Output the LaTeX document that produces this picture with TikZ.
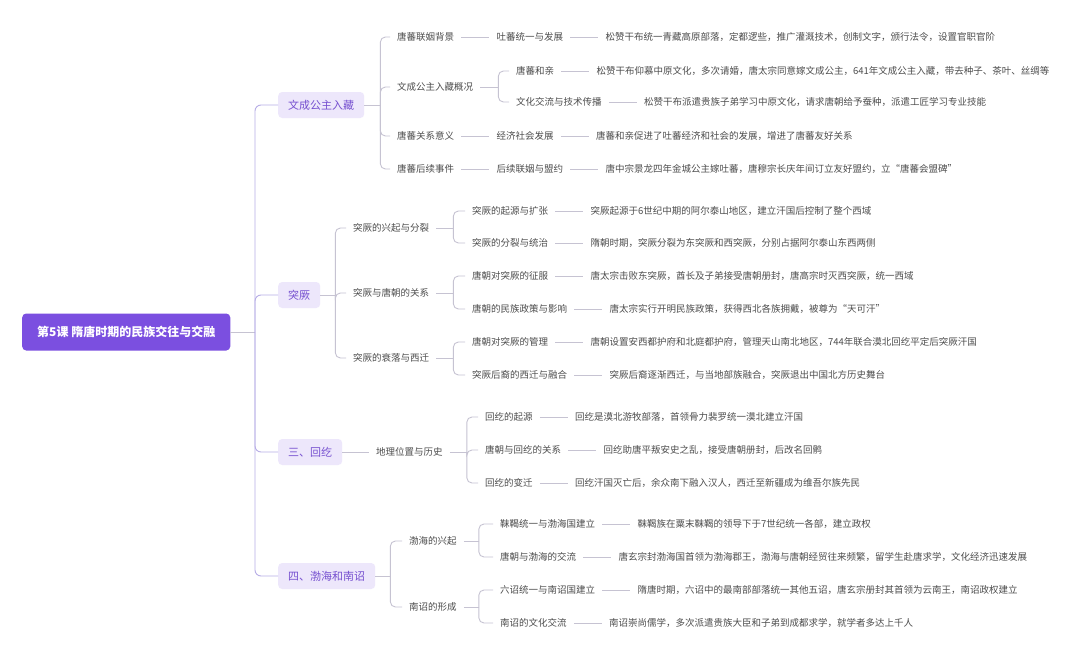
\documentclass[tikz,border=0pt]{standalone}
\usepackage{fontspec}
\setmainfont{Noto Sans CJK SC}
\usetikzlibrary{positioning}

\definecolor{rootpurple}{HTML}{7B4FE0}
\definecolor{boxlav}{HTML}{EDE7FB}
\definecolor{boxtext}{HTML}{7650D0}
\definecolor{linegray}{HTML}{C6C3D2}
\definecolor{trunkline}{HTML}{B7ADE6}
\definecolor{txtgray}{HTML}{4D4D4D}

\tikzset{
  rootbox/.style={fill=rootpurple, text=white, rounded corners=4pt,
    font=\fontsize{12}{14}\selectfont\bfseries, inner xsep=15pt,
    minimum height=37pt, anchor=west},
  topic/.style={fill=boxlav, text=boxtext, rounded corners=4pt,
    font=\fontsize{11}{13}\selectfont, inner xsep=10pt,
    minimum height=26pt, anchor=west},
  sub/.style={text=txtgray, font=\fontsize{9.5}{11}\selectfont,
    inner xsep=7pt, inner ysep=2pt, anchor=west},
  link/.style={draw=linegray, line width=0.9pt},
  elbow/.style={link, rounded corners=5pt},
  trunk/.style={draw=trunkline, line width=0.9pt, rounded corners=6pt}
}

\begin{document}
\begin{tikzpicture}[x=1pt,y=-1pt]
\useasboundingbox (0,0) rectangle (1080,664);
\fill[white] (0,0) rectangle (1080,664);

% root and the four topics
\node[rootbox] (root) at (22,332) {第5课 隋唐时期的民族交往与交融};
\node[topic] (t1) at (278,105) {文成公主入藏};
\node[topic] (t2) at (278,295) {突厥};
\node[topic] (t3) at (278,452) {三、回纥};
\node[topic] (t4) at (278,576) {四、渤海和南诏};
\coordinate (hub) at (255,332);
\draw[link] (root) -- (hub);
\foreach \t in {t1,t2,t3,t4}
{\draw[trunk] (hub) |- (\t.west);}

% 文成公主入藏
\draw[link] (t1.east) -- ++(16,0) coordinate (j1);
\node[sub] (a1) at (390,37) {唐蕃联姻背景};
\node[sub] (a2) at (390,87) {文成公主入藏概况};
\node[sub] (a3) at (390,136) {唐蕃关系意义};
\node[sub] (a4) at (390,169) {唐蕃后续事件};
\foreach \n in {a1,a2,a3,a4}
{\draw[elbow] (j1) |- (\n.west);}

\node[sub, right=28pt of a1] (b1) {吐蕃统一与发展};
\node[sub, right=28pt of b1] (c1) {松赞干布统一青藏高原部落，定都逻些，推广灌溉技术，创制文字，颁行法令，设置官职官阶};
\draw[link] (a1) -- (b1);
\draw[link] (b1) -- (c1);

\draw[link] (a2.east) -- ++(18,0) coordinate (j2);
\node[sub] (a21) at (509,71) {唐蕃和亲};
\node[sub] (a22) at (509,102) {文化交流与技术传播};
\foreach \n in {a21,a22}
{\draw[elbow] (j2) |- (\n.west);}
\node[sub, right=28pt of a21] (c21) {松赞干布仰慕中原文化，多次请婚，唐太宗同意嫁文成公主，641年文成公主入藏，带去种子、茶叶、丝绸等};
\node[sub, right=28pt of a22] (c22) {松赞干布派遣贵族子弟学习中原文化，请求唐朝给予蚕种，派遣工匠学习专业技能};
\draw[link] (a21) -- (c21);
\draw[link] (a22) -- (c22);

\node[sub, right=28pt of a3] (b3) {经济社会发展};
\node[sub, right=28pt of b3] (c3) {唐蕃和亲促进了吐蕃经济和社会的发展，增进了唐蕃友好关系};
\draw[link] (a3) -- (b3);
\draw[link] (b3) -- (c3);

\node[sub, right=28pt of a4] (b4) {后续联姻与盟约};
\node[sub, right=28pt of b4] (c4) {唐中宗景龙四年金城公主嫁吐蕃，唐穆宗长庆年间订立友好盟约，立“唐蕃会盟碑”};
\draw[link] (a4) -- (b4);
\draw[link] (b4) -- (c4);

% 突厥
\draw[link] (t2.east) -- ++(15,0) coordinate (j3);
\node[sub] (d1) at (346,228) {突厥的兴起与分裂};
\node[sub] (d2) at (346,293) {突厥与唐朝的关系};
\node[sub] (d3) at (346,358) {突厥的衰落与西迁};
\foreach \n in {d1,d2,d3}
{\draw[elbow] (j3) |- (\n.west);
\draw[link] (\n.east) -- ++(17,0) coordinate (j\n);}

\node[sub] (e11) at (465,211) {突厥的起源与扩张};
\node[sub] (e12) at (465,243) {突厥的分裂与统治};
\node[sub] (e21) at (465,276) {唐朝对突厥的征服};
\node[sub] (e22) at (465,309) {唐朝的民族政策与影响};
\node[sub] (e31) at (465,342) {唐朝对突厥的管理};
\node[sub] (e32) at (465,375) {突厥后裔的西迁与融合};
\foreach \n in {e11,e12}
{\draw[elbow] (jd1) |- (\n.west);}
\foreach \n in {e21,e22}
{\draw[elbow] (jd2) |- (\n.west);}
\foreach \n in {e31,e32}
{\draw[elbow] (jd3) |- (\n.west);}

\node[sub, right=28pt of e11] (f11) {突厥起源于6世纪中期的阿尔泰山地区，建立汗国后控制了整个西域};
\node[sub, right=28pt of e12] (f12) {隋朝时期，突厥分裂为东突厥和西突厥，分别占据阿尔泰山东西两侧};
\node[sub, right=28pt of e21] (f21) {唐太宗击败东突厥，酋长及子弟接受唐朝册封，唐高宗时灭西突厥，统一西域};
\node[sub, right=28pt of e22] (f22) {唐太宗实行开明民族政策，获得西北各族拥戴，被尊为“天可汗”};
\node[sub, right=28pt of e31] (f31) {唐朝设置安西都护府和北庭都护府，管理天山南北地区，744年联合漠北回纥平定后突厥汗国};
\node[sub, right=28pt of e32] (f32) {突厥后裔逐渐西迁，与当地部族融合，突厥退出中国北方历史舞台};
\foreach \n in {11,12,21,22,31,32}
{\draw[link] (e\n) -- (f\n);}

% 回纥
\node[sub] (g) at (369,452) {地理位置与历史};
\draw[link] (t3) -- (g);
\draw[link] (g.east) -- ++(17,0) coordinate (j4);
\node[sub] (g1) at (478,417) {回纥的起源};
\node[sub] (g2) at (478,450) {唐朝与回纥的关系};
\node[sub] (g3) at (478,483) {回纥的变迁};
\node[sub, right=28pt of g1] (h1) {回纥是漠北游牧部落，首领骨力裴罗统一漠北建立汗国};
\node[sub, right=28pt of g2] (h2) {回纥助唐平叛安史之乱，接受唐朝册封，后改名回鹘};
\node[sub, right=28pt of g3] (h3) {回纥汗国灭亡后，余众南下融入汉人，西迁至新疆成为维吾尔族先民};
\foreach \n in {1,2,3}
{\draw[elbow] (j4) |- (g\n.west);
\draw[link] (g\n) -- (h\n);}

% 渤海和南诏
\draw[link] (t4.east) -- ++(15,0) coordinate (j5);
\node[sub] (k1) at (402,541) {渤海的兴起};
\node[sub] (k2) at (402,607) {南诏的形成};
\foreach \n in {k1,k2}
{\draw[elbow] (j5) |- (\n.west);
\draw[link] (\n.east) -- ++(15,0) coordinate (j\n);}

\node[sub] (m11) at (493,524) {靺鞨统一与渤海国建立};
\node[sub] (m12) at (493,557) {唐朝与渤海的交流};
\node[sub] (m21) at (493,590) {六诏统一与南诏国建立};
\node[sub] (m22) at (493,623) {南诏的文化交流};
\foreach \n in {m11,m12}
{\draw[elbow] (jk1) |- (\n.west);}
\foreach \n in {m21,m22}
{\draw[elbow] (jk2) |- (\n.west);}

\node[sub, right=28pt of m11] (n11) {靺鞨族在粟末靺鞨的领导下于7世纪统一各部，建立政权};
\node[sub, right=28pt of m12] (n12) {唐玄宗封渤海国首领为渤海郡王，渤海与唐朝经贸往来频繁，留学生赴唐求学，文化经济迅速发展};
\node[sub, right=28pt of m21] (n21) {隋唐时期，六诏中的最南部部落统一其他五诏，唐玄宗册封其首领为云南王，南诏政权建立};
\node[sub, right=28pt of m22] (n22) {南诏崇尚儒学，多次派遣贵族大臣和子弟到成都求学，就学者多达上千人};
\foreach \n in {11,12,21,22}
{\draw[link] (m\n) -- (n\n);}

\end{tikzpicture}
\end{document}
